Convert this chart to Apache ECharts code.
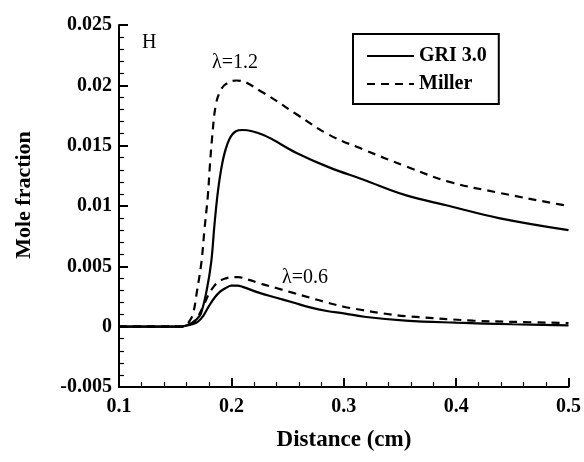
<!DOCTYPE html>
<html>
<head>
<meta charset="utf-8">
<script src="https://cdn.jsdelivr.net/npm/echarts@6/dist/echarts.min.js"></script>
<style>html,body{margin:0;padding:0;background:#fff;}#c{width:584px;height:462px;}</style>
</head>
<body>
<div id="c"></div>
<script>
// Data
var gri12X = [0.1,0.155,0.16,0.165,0.17,0.173,0.178,0.182,0.185,0.188,0.191,0.194,0.1985,0.204,0.21,0.228,0.258,0.287,0.317,0.355,0.394,0.438,0.5];
var gri12Y = [0,0,0.0001,0.0003,0.0007,0.0011,0.0030,0.0053,0.0085,0.0112,0.0131,0.0144,0.0156,0.0162,0.0163,0.0159,0.0144,0.0132,0.0122,0.0109,0.0100,0.0090,0.0080];
var mil12X = [0.1,0.155,0.16,0.163,0.166,0.1695,0.1733,0.176,0.179,0.181,0.183,0.186,0.19,0.195,0.2045,0.228,0.258,0.287,0.317,0.355,0.394,0.438,0.488,0.5];
var mil12Y = [0,0,0.0002,0.0005,0.0011,0.0030,0.0053,0.0080,0.0108,0.0135,0.0158,0.0183,0.0195,0.0201,0.0204,0.0194,0.0176,0.0159,0.0147,0.0133,0.0120,0.0111,0.0102,0.0100];
var gri06X = [0.1,0.155,0.16,0.165,0.17,0.175,0.18,0.185,0.19,0.195,0.2,0.205,0.21,0.225,0.24,0.255,0.27,0.285,0.3,0.32,0.355,0.4,0.45,0.5];
var gri06Y = [0,0,0.0001,0.0002,0.0004,0.0009,0.0017,0.0024,0.0029,0.0032,0.0034,0.0034,0.0033,0.0028,0.0024,0.0020,0.0016,0.0013,0.0011,0.0008,0.0005,0.00033,0.0002,0.0001];
var mil06X = [0.1,0.155,0.16,0.165,0.17,0.175,0.18,0.185,0.19,0.195,0.2,0.206,0.215,0.225,0.24,0.255,0.27,0.285,0.3,0.315,0.335,0.355,0.415,0.45,0.5];
var mil06Y = [0,0,0.0001,0.0003,0.0008,0.0017,0.0027,0.0034,0.0038,0.0040,0.0041,0.0041,0.0039,0.0036,0.0032,0.0028,0.0024,0.0020,0.00165,0.0014,0.0011,0.00088,0.0005,0.0004,0.0003];
var legendNames = ['GRI 3.0', 'Miller'];
var xTitle = 'Distance (cm)';
var yTitle = 'Mole fraction';

function pairs(xs, ys) { return xs.map(function (x, i) { return [x, ys[i]]; }); }

var FONT = '"Liberation Serif", "Times New Roman", serif';
var chart = echarts.init(document.getElementById('c'), null, {renderer: 'canvas'});

function mk(name, xs, ys, dashed) {
  return {
    type: 'line', name: name, data: pairs(xs, ys), showSymbol: false, symbol: 'none',
    smooth: 0.4, animation: false,
    lineStyle: {color: '#000', width: 2.2, type: dashed ? [8, 6] : 'solid'},
    itemStyle: {color: '#000'}
  };
}

chart.setOption({
  animation: false,
  backgroundColor: '#fff',
  grid: {left: 119, right: 14, top: 25, bottom: 75, containLabel: false},
  xAxis: {
    type: 'value', min: 0.1, max: 0.5, interval: 0.1,
    axisLine: {show: true, onZero: false, lineStyle: {color: '#000', width: 2}},
    axisTick: {show: true, inside: true, length: 9, lineStyle: {color: '#000', width: 2}},
    minorTick: {show: true, splitNumber: 5, length: 5, lineStyle: {color: '#000', width: 1.2}},
    splitLine: {show: false},
    axisLabel: {color: '#000', fontFamily: FONT, fontWeight: 'bold', fontSize: 20, margin: 10}
  },
  yAxis: {
    type: 'value', min: -0.005, max: 0.025, interval: 0.005,
    axisLine: {show: true, onZero: false, lineStyle: {color: '#000', width: 2}},
    axisTick: {show: true, inside: true, length: 9, lineStyle: {color: '#000', width: 2}},
    minorTick: {show: true, splitNumber: 5, length: 5, lineStyle: {color: '#000', width: 1.2}},
    splitLine: {show: false},
    axisLabel: {color: '#000', fontFamily: FONT, fontWeight: 'bold', fontSize: 20, margin: 7}
  },
  legend: {
    data: legendNames, orient: 'vertical', left: 353, top: 34,
    padding: [12, 12, 10, 13], itemGap: 8, itemWidth: 47, itemHeight: 14,
    borderColor: '#000', borderWidth: 2, backgroundColor: '#fff',
    itemStyle: {color: 'rgba(0,0,0,0)', borderWidth: 0, opacity: 0},
    textStyle: {color: '#000', fontFamily: FONT, fontWeight: 'bold', fontSize: 20},
    selectedMode: false
  },
  graphic: [
    {type: 'text', left: 142, top: 33, style: {text: 'H', font: '20px ' + FONT, fill: '#000'}},
    {type: 'text', x: 235, y: 63, style: {text: 'λ=1.2', font: '20px ' + FONT, fill: '#000', textAlign: 'center', textVerticalAlign: 'middle'}},
    {type: 'text', x: 305, y: 278, style: {text: 'λ=0.6', font: '20px ' + FONT, fill: '#000', textAlign: 'center', textVerticalAlign: 'middle'}},
    {type: 'text', x: 344, y: 440, style: {text: xTitle, font: 'bold 23px ' + FONT, fill: '#000', textAlign: 'center', textVerticalAlign: 'middle'}},
    {type: 'text', x: 24, y: 195, rotation: Math.PI / 2, style: {text: yTitle, font: 'bold 22px ' + FONT, fill: '#000', textAlign: 'center', textVerticalAlign: 'middle'}}
  ],
  series: [
    mk(legendNames[0], gri12X, gri12Y, false),
    mk(legendNames[1], mil12X, mil12Y, true),
    mk(legendNames[0], gri06X, gri06Y, false),
    mk(legendNames[1], mil06X, mil06Y, true)
  ]
});
</script>
</body>
</html>
